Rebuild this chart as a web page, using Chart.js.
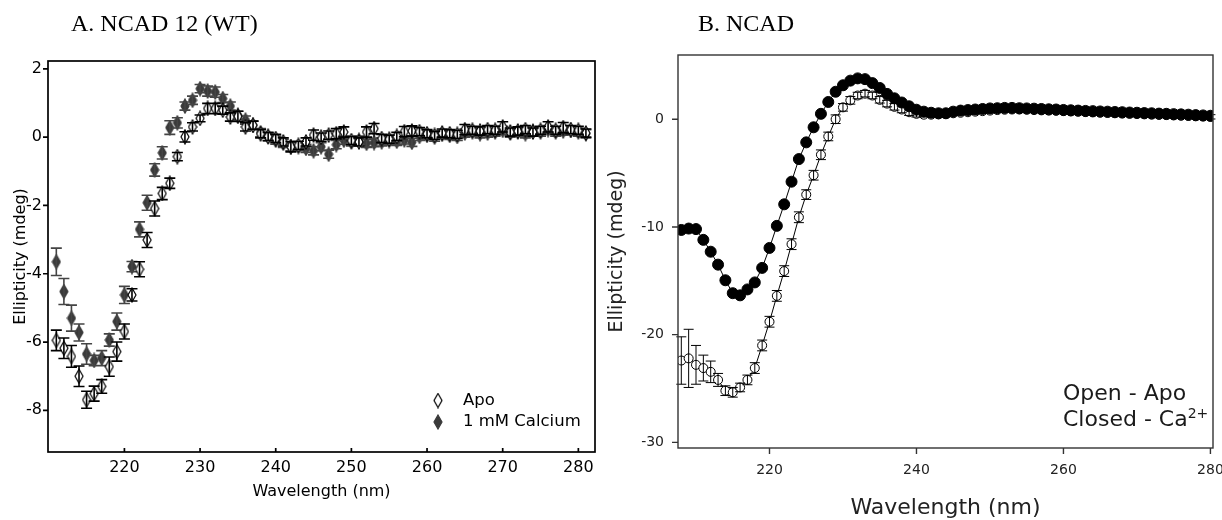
<!DOCTYPE html>
<html>
<head>
<meta charset="utf-8">
<script src="https://cdn.jsdelivr.net/npm/chart.js@4.4.1/dist/chart.umd.min.js"></script>
<style>
  html, body { margin: 0; padding: 0; background: #fff; width: 1222px; height: 520px; overflow: hidden; }
  #wrapA { position: absolute; left: 0; top: 0; width: 600px; height: 520px; }
  #wrapB { position: absolute; left: 600px; top: 0; width: 622px; height: 520px; }
  .panelTitle { position: absolute; top: 9px; font-family: "Liberation Serif", "Times New Roman", serif; font-size: 24px; line-height: 28px; color: #000; white-space: nowrap; }
  #legendB { position: absolute; left: 1063px; top: 380px; font-family: "DejaVu Sans", sans-serif; font-size: 22px; line-height: 26px; color: #1a1a1a; white-space: nowrap; }
  #legendB sup { font-size: 14px; vertical-align: 8px; line-height: 0; }
</style>
</head>
<body>
<div id="wrapA"><canvas id="chartA"></canvas></div>
<div id="wrapB"><canvas id="chartB"></canvas></div>
<div class="panelTitle" style="left:71px">A. NCAD 12 (WT)</div>
<div class="panelTitle" style="left:698px">B. NCAD</div>
<div id="legendB">Open - Apo<br>Closed - Ca<sup>2+</sup></div>
<script>
// ---- Panel A: NCAD 12 (WT), one point per nm ----
const wlA = [211, 212, 213, 214, 215, 216, 217, 218, 219, 220,
             221, 222, 223, 224, 225, 226, 227, 228, 229, 230,
             231, 232, 233, 234, 235, 236, 237, 238, 239, 240,
             241, 242, 243, 244, 245, 246, 247, 248, 249, 250,
             251, 252, 253, 254, 255, 256, 257, 258, 259, 260,
             261, 262, 263, 264, 265, 266, 267, 268, 269, 270,
             271, 272, 273, 274, 275, 276, 277, 278, 279, 280,
             281];
const apoA = [-5.95, -6.18, -6.42, -7.00, -7.69, -7.51, -7.30, -6.72, -6.28, -5.69,
              -4.62, -3.87, -3.01, -2.09, -1.65, -1.35, -0.57, 0.01, 0.30, 0.55,
              0.84, 0.84, 0.79, 0.59, 0.61, 0.30, 0.35, 0.10, 0.02, -0.04,
              -0.14, -0.28, -0.24, -0.14, 0.06, 0.00, 0.06, 0.10, 0.15, -0.10,
              -0.14, 0.15, 0.25, -0.04, -0.06, 0.02, 0.16, 0.18, 0.16, 0.10,
              0.05, 0.12, 0.10, 0.08, 0.22, 0.20, 0.18, 0.22, 0.20, 0.30,
              0.15, 0.18, 0.22, 0.15, 0.20, 0.30, 0.20, 0.28, 0.22, 0.20,
              0.12];
const apoErrA = [0.30, 0.30, 0.32, 0.30, 0.25, 0.22, 0.20, 0.28, 0.28, 0.22,
                 0.18, 0.22, 0.22, 0.22, 0.18, 0.15, 0.12, 0.15, 0.12, 0.10,
                 0.15, 0.15, 0.12, 0.12, 0.15, 0.12, 0.12, 0.12, 0.12, 0.12,
                 0.12, 0.15, 0.12, 0.12, 0.15, 0.12, 0.12, 0.15, 0.15, 0.12,
                 0.12, 0.15, 0.15, 0.12, 0.12, 0.12, 0.15, 0.15, 0.12, 0.12,
                 0.12, 0.12, 0.12, 0.12, 0.15, 0.12, 0.12, 0.12, 0.12, 0.15,
                 0.12, 0.12, 0.12, 0.12, 0.12, 0.15, 0.12, 0.15, 0.12, 0.12,
                 0.12];
const caA = [-3.65, -4.52, -5.30, -5.72, -6.35, -6.54, -6.47, -5.94, -5.40, -4.62,
             -3.79, -2.70, -1.92, -0.96, -0.46, 0.28, 0.42, 0.91, 1.08, 1.42,
             1.35, 1.32, 1.13, 0.91, 0.64, 0.50, 0.35, 0.13, 0.01, -0.09,
             -0.18, -0.28, -0.28, -0.33, -0.40, -0.28, -0.50, -0.22, -0.09, -0.14,
             -0.09, -0.18, -0.16, -0.14, -0.10, -0.12, -0.08, -0.15, 0.02, 0.05,
             0.00, 0.08, 0.05, 0.02, 0.12, 0.15, 0.10, 0.12, 0.15, 0.20,
             0.12, 0.15, 0.10, 0.18, 0.15, 0.22, 0.15, 0.18, 0.20, 0.15,
             0.10];
const caErrA = [0.40, 0.38, 0.38, 0.25, 0.30, 0.15, 0.22, 0.18, 0.25, 0.25,
                0.15, 0.22, 0.22, 0.18, 0.18, 0.20, 0.15, 0.12, 0.12, 0.12,
                0.15, 0.15, 0.12, 0.12, 0.12, 0.12, 0.12, 0.12, 0.12, 0.12,
                0.12, 0.12, 0.12, 0.12, 0.12, 0.12, 0.12, 0.12, 0.12, 0.12,
                0.12, 0.12, 0.12, 0.12, 0.12, 0.12, 0.12, 0.12, 0.12, 0.12,
                0.12, 0.12, 0.12, 0.12, 0.12, 0.12, 0.12, 0.12, 0.12, 0.12,
                0.12, 0.12, 0.12, 0.12, 0.12, 0.12, 0.12, 0.12, 0.12, 0.12,
                0.12];
const xTicksA = [220, 230, 240, 250, 260, 270, 280];
const yTicksA = [-8, -6, -4, -2, 0, 2];

// ---- Panel B: NCAD ----
const wlB = [208, 209, 210, 211, 212, 213, 214, 215, 216, 217,
             218, 219, 220, 221, 222, 223, 224, 225, 226, 227,
             228, 229, 230, 231, 232, 233, 234, 235, 236, 237,
             238, 239, 240, 241, 242, 243, 244, 245, 246, 247,
             248, 249, 250, 251, 252, 253, 254, 255, 256, 257,
             258, 259, 260, 261, 262, 263, 264, 265, 266, 267,
             268, 269, 270, 271, 272, 273, 274, 275, 276, 277,
             278, 279, 280];
const caB = [-10.28, -10.15, -10.2, -11.2, -12.3, -13.5, -14.95, -16.15, -16.35, -15.8,
             -15.15, -13.8, -11.95, -9.9, -7.9, -5.8, -3.7, -2.15, -0.75, 0.5,
             1.6, 2.55, 3.15, 3.58, 3.79, 3.72, 3.35, 2.9, 2.35, 1.94,
             1.55, 1.2, 0.88, 0.7, 0.6, 0.55, 0.55, 0.7, 0.8, 0.85,
             0.9, 0.95, 1.0, 1.02, 1.05, 1.05, 1.02, 1.0, 0.98, 0.95,
             0.92, 0.9, 0.86, 0.83, 0.8, 0.77, 0.75, 0.72, 0.7, 0.67,
             0.65, 0.62, 0.6, 0.57, 0.55, 0.52, 0.5, 0.47, 0.45, 0.42,
             0.38, 0.35, 0.32];
const apoB = [-22.4, -22.2, -22.8, -23.1, -23.45, -24.2, -25.2, -25.35, -24.9, -24.2,
              -23.1, -21.0, -18.8, -16.4, -14.1, -11.6, -9.1, -7.0, -5.2, -3.3,
              -1.6, 0.0, 1.1, 1.75, 2.2, 2.37, 2.2, 1.8, 1.45, 1.15,
              0.9, 0.65, 0.5, 0.42, 0.42, 0.45, 0.5, 0.55, 0.6, 0.65,
              0.7, 0.75, 0.8, 0.85, 0.88, 0.9, 0.9, 0.88, 0.85, 0.82,
              0.8, 0.78, 0.75, 0.72, 0.7, 0.66, 0.63, 0.6, 0.58, 0.55,
              0.52, 0.5, 0.48, 0.45, 0.42, 0.4, 0.38, 0.35, 0.32, 0.3,
              0.27, 0.25, 0.22];
const apoErrB = [2.2, 2.7, 1.8, 1.2, 1.0, 0.6, 0.45, 0.45, 0.4, 0.45,
                 0.5, 0.5, 0.5, 0.5, 0.5, 0.5, 0.5, 0.45, 0.45, 0.45,
                 0.4, 0.4, 0.35, 0.35, 0.3, 0.3, 0.3, 0.3, 0.3, 0.3,
                 0.3, 0.3, 0.3, 0.2, 0.2, 0.2, 0.2, 0.2, 0.2, 0.2,
                 0.2, 0.2, 0.2, 0.2, 0.2, 0.2, 0.2, 0.2, 0.2, 0.2,
                 0.2, 0.2, 0.2, 0.2, 0.2, 0.2, 0.2, 0.2, 0.2, 0.2,
                 0.2, 0.2, 0.2, 0.2, 0.2, 0.2, 0.2, 0.2, 0.2, 0.2,
                 0.2, 0.2, 0.2];
const xTicksB = [220, 240, 260, 280];
const yTicksB = [-30, -20, -10, 0];

// tall diamond markers used in panel A
function diamond(fill, stroke) {
    const c = document.createElement('canvas');
    c.width = 10;
    c.height = 16;
    const g = c.getContext('2d');
    g.beginPath();
    g.moveTo(5, 1);
    g.lineTo(9, 8);
    g.lineTo(5, 15);
    g.lineTo(1, 8);
    g.closePath();
    g.fillStyle = fill;
    g.fill();
    g.lineWidth = 1.2;
    g.strokeStyle = stroke;
    g.stroke();
    return c;
}
const openDiamond = diamond('#fff', '#000');
const solidDiamond = diamond('#3a3a3a', '#3a3a3a');

function points(xs, ys) {
    return xs.map((x, i) => ({ x: x, y: ys[i] }));
}

// vertical error bars with caps, drawn right after their dataset
const errorBars = {
    id: 'errorBars',
    afterDatasetDraw(chart, args) {
        const ds = chart.data.datasets[args.index];
        if (!ds.errors) return;
        const ctx = chart.ctx;
        const x = chart.scales.x, y = chart.scales.y;
        const half = ds.capWidth / 2;
        ctx.save();
        ctx.strokeStyle = ds.errorColor;
        ctx.lineWidth = ds.errorWidth;
        ctx.beginPath();
        ds.data.forEach((p, i) => {
            const e = ds.errors[i];
            if (!e) return;
            const px = x.getPixelForValue(p.x);
            const top = y.getPixelForValue(p.y + e);
            const bot = y.getPixelForValue(p.y - e);
            ctx.moveTo(px, top); ctx.lineTo(px, bot);
            ctx.moveTo(px - half, top); ctx.lineTo(px + half, top);
            ctx.moveTo(px - half, bot); ctx.lineTo(px + half, bot);
        });
        ctx.stroke();
        ctx.restore();
    }
};

// box around the plot plus tick marks
const frame = {
    id: 'frame',
    afterDraw(chart, args, opts) {
        const ctx = chart.ctx;
        const a = chart.chartArea;
        const x = chart.scales.x, y = chart.scales.y;
        ctx.save();
        ctx.strokeStyle = opts.color;
        ctx.lineWidth = opts.width;
        ctx.strokeRect(a.left, a.top, a.right - a.left, a.bottom - a.top);
        ctx.beginPath();
        y.ticks.forEach(t => {
            const py = y.getPixelForValue(t.value);
            ctx.moveTo(a.left - opts.yTick, py);
            ctx.lineTo(a.left, py);
        });
        x.ticks.forEach(t => {
            const px = x.getPixelForValue(t.value);
            ctx.moveTo(px, a.bottom);
            ctx.lineTo(px, a.bottom + opts.xTick);
        });
        ctx.stroke();
        ctx.restore();
    }
};

// legend of panel A, lower right inside the plot
const legendA = {
    id: 'legendA',
    afterDraw(chart) {
        const ctx = chart.ctx;
        const a = chart.chartArea;
        const rows = [[openDiamond, 'Apo'], [solidDiamond, '1 mM Calcium']];
        ctx.save();
        ctx.font = '16.5px "DejaVu Sans"';
        ctx.fillStyle = '#000';
        ctx.textBaseline = 'middle';
        rows.forEach((r, i) => {
            const cy = a.bottom - 51.5 + i * 21.5;
            ctx.drawImage(r[0], a.right - 162, cy - 8);
            ctx.fillText(r[1], a.right - 132, cy);
        });
        ctx.restore();
    }
};

function axis(min, max, tickList, size, fontA, titleText, titleFont, titlePad, labelPad, color) {
    const horizontal = size.height !== undefined;
    return {
        type: 'linear',
        min: min,
        max: max,
        afterBuildTicks: s => { s.ticks = tickList.map(v => ({ value: v })); },
        afterFit: s => {
            if (horizontal) s.height = size.height; else s.width = size.width;
            s.paddingLeft = 0; s.paddingRight = 0; s.paddingTop = 0; s.paddingBottom = 0;
        },
        grid: { display: false, drawTicks: false },
        border: { display: false },
        ticks: { padding: labelPad, color: color, font: fontA, maxRotation: 0, autoSkip: false },
        title: { display: true, text: titleText, color: color, font: titleFont, padding: titlePad }
    };
}

const fontA = { family: 'DejaVu Sans', size: 16 };

new Chart(document.getElementById('chartA'), {
    type: 'scatter',
    data: {
        datasets: [
            {
                label: 'Apo',
                data: points(wlA, apoA),
                pointStyle: openDiamond,
                errors: apoErrA,
                errorColor: '#000',
                errorWidth: 1.6,
                capWidth: 11
            },
            {
                label: '1 mM Calcium',
                data: points(wlA, caA),
                pointStyle: solidDiamond,
                errors: caErrA,
                errorColor: '#444',
                errorWidth: 1.6,
                capWidth: 11
            }
        ]
    },
    options: {
        responsive: true,
        maintainAspectRatio: false,
        animation: false,
        layout: { padding: { left: 0, right: 3, top: 61, bottom: 0 } },
        plugins: {
            legend: { display: false },
            tooltip: { enabled: false },
            frame: { color: '#000', width: 1.7, yTick: 5, xTick: -4 }
        },
        scales: {
            x: axis(209.9, 282.2, xTicksA, { height: 68 }, fontA, 'Wavelength (nm)', fontA,
                    { top: 0, bottom: 19 }, 6, '#000'),
            y: axis(-9.22, 2.23, yTicksA, { width: 48 }, fontA, 'Ellipticity (mdeg)', fontA,
                    { top: 11, bottom: 0 }, 6, '#000')
        }
    },
    plugins: [errorBars, frame, legendA]
});

const tickFontB = { family: 'DejaVu Sans', size: 14 };

new Chart(document.getElementById('chartB'), {
    type: 'scatter',
    data: {
        datasets: [
            {
                label: 'Closed - Ca2+',
                data: points(wlB, caB),
                showLine: true,
                borderColor: '#000',
                borderWidth: 1,
                pointRadius: 5.5,
                pointBackgroundColor: '#000',
                pointBorderColor: '#000',
                pointBorderWidth: 1
            },
            {
                label: 'Open - Apo',
                data: points(wlB, apoB),
                showLine: true,
                borderColor: '#000',
                borderWidth: 1,
                pointRadius: 4.5,
                pointBackgroundColor: '#fff',
                pointBorderColor: '#000',
                pointBorderWidth: 1,
                errors: apoErrB,
                errorColor: '#000',
                errorWidth: 1,
                capWidth: 10
            }
        ]
    },
    options: {
        responsive: true,
        maintainAspectRatio: false,
        animation: false,
        layout: { padding: { left: 0, right: 9, top: 55, bottom: 0 } },
        plugins: {
            legend: { display: false },
            tooltip: { enabled: false },
            frame: { color: '#333', width: 1.4, yTick: 6, xTick: 6 }
        },
        scales: {
            x: axis(207.55, 280.35, xTicksB, { height: 72 }, tickFontB, 'Wavelength (nm)',
                    { family: 'DejaVu Sans', size: 22, lineHeight: 1 }, { top: 0, bottom: 1 }, 14, '#222'),
            y: axis(-30.52, 5.96, yTicksB, { width: 78 }, tickFontB, 'Ellipticity (mdeg)',
                    { family: 'DejaVu Sans', size: 19 }, { top: 6, bottom: 0 }, 14, '#222')
        }
    },
    plugins: [errorBars, frame]
});
</script>
</body>
</html>
